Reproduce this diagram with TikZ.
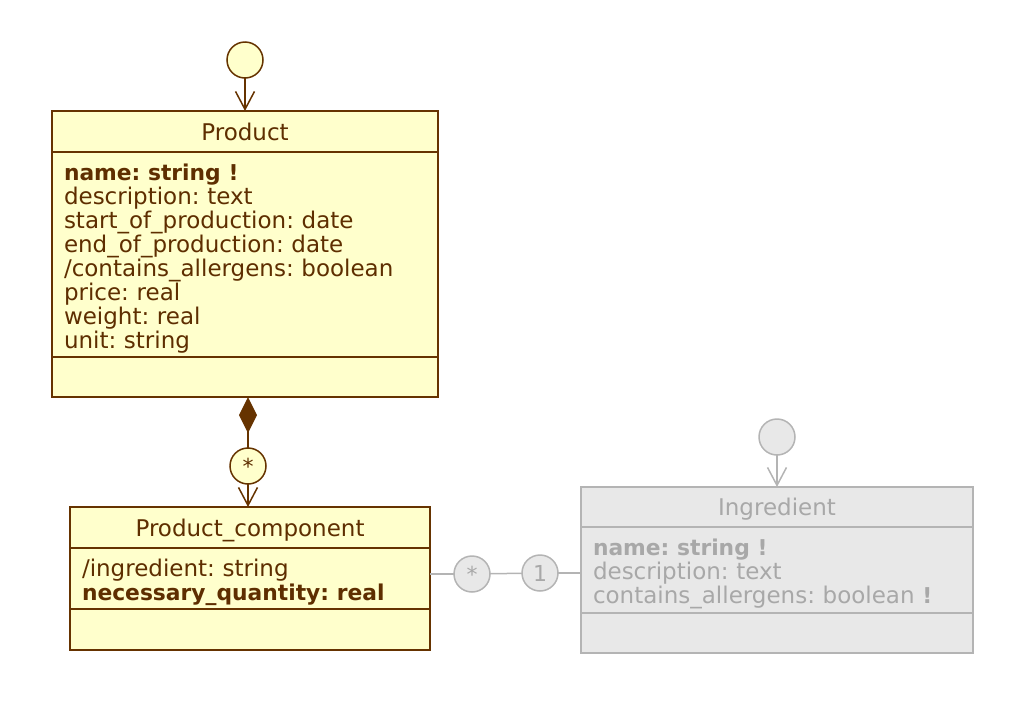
\documentclass[tikz,border=0pt]{standalone}
\usepackage{fontspec}
\setmainfont{DejaVu Sans}
\usetikzlibrary{arrows.meta,positioning}
\definecolor{umlbrown}{HTML}{663300}
\definecolor{umltext}{HTML}{5E2E00}
\definecolor{umlfill}{HTML}{FFFFCC}
\definecolor{greyline}{HTML}{B4B4B4}
\definecolor{greyfill}{HTML}{E8E8E8}
\definecolor{greytext}{HTML}{A8A8A8}
\frenchspacing
\newcommand{\keyattr}[1]{{\fontsize{21.8}{24}\selectfont\bfseries #1}}
\newcommand{\firstline}{\rule{0pt}{25pt}}
\newcommand{\nodepth}[1]{\raisebox{0pt}[\height][0pt]{#1}}

\begin{document}
\begin{tikzpicture}[
  x=1pt, y=-1pt,
  font=\fontsize{23}{24}\selectfont,
  node distance=0pt,
  part/.style={draw=umlbrown, fill=umlfill, text=umltext, line width=1.5pt, inner sep=0pt, outer sep=0pt},
  gpart/.style={draw=greyline, fill=greyfill, text=greytext},
  title/.style={minimum width=#1, minimum height=41pt, anchor=north},
  attrs/.style={text width=#1, inner xsep=12pt, align=left},
  start/.style={part, circle, minimum size=36pt},
  mult/.style={part, circle, minimum size=36pt, font=\fontsize{22}{22}\selectfont},
  arrow/.style={-{Straight Barb[length=18pt, width=19pt]}, line width=1.5pt, draw=umlbrown},
  greyarrow/.style={arrow, draw=greyline},
  owns/.style={{Diamond[length=36pt, width=18pt, fill=umlbrown]}-, line width=1.5pt, draw=umlbrown}
]
\useasboundingbox (0,0) rectangle (1030,710);

% Product
\node[part, title=386pt] (prodtitle) at (245,111) {Product};
\node[part, attrs=362pt, minimum height=205pt, below=of prodtitle] (prodattrs) {\firstline\keyattr{name: string !}\\description: text\\start\_of\_production: date\\end\_of\_production: date\\/contains\_allergens: boolean\\price: real\\weight: real\\unit: string};
\node[part, minimum width=386pt, minimum height=40pt, below=of prodattrs] (prodops) {};
\node[start] (prodstart) at (245,60) {};

% Product_component
\node[part, title=360pt] (comptitle) at (250,507) {\nodepth{Product\_component}};
\node[part, attrs=336pt, minimum height=61pt, below=of comptitle] (compattrs) {\firstline/ingredient: string\\\keyattr{necessary\_quantity: real}};
\node[part, minimum width=360pt, minimum height=41pt, below=of compattrs] (compops) {};
\node[mult] (compmult) at (248,466) {*};

% Ingredient
\node[part, gpart, title=392pt, minimum height=40pt] (ingtitle) at (777,487) {\nodepth{Ingredient}};
\node[part, gpart, attrs=368pt, minimum height=86pt, below=of ingtitle] (ingattrs) {\firstline\keyattr{name: string !}\\description: text\\contains\_allergens: boolean \keyattr{!}};
\node[part, gpart, minimum width=392pt, minimum height=40pt, below=of ingattrs] (ingops) {};
\node[start, gpart] (ingstart) at (777,437) {};

% association
\node[mult, gpart] (compmany) at (472,574) {*};
\node[mult, gpart] (ingone) at (540,573) {1};

\draw[arrow] (prodstart) -- (prodtitle);
\draw[owns] (prodops.south -| compmult) -- (compmult);
\draw[arrow] (compmult) -- (comptitle.north -| compmult);
\draw[greyarrow] (ingstart) -- (ingtitle);
\draw[line width=1.5pt, greyline] (compattrs.east |- compmany) -- (compmany);
\draw[line width=1.5pt, greyline] (compmany) -- (ingone);
\draw[line width=1.5pt, greyline] (ingone) -- (ingattrs.west |- ingone);
\end{tikzpicture}
\end{document}
